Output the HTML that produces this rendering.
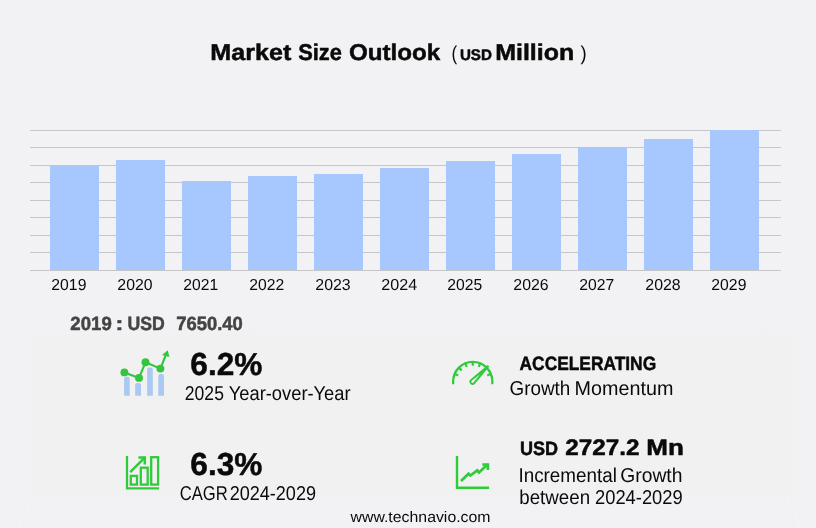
<!DOCTYPE html>
<html lang="en"><head><meta charset="utf-8"><title>Market Size Outlook</title>
<style>
html,body{margin:0;padding:0;background:#f2f2f5;}
body{width:816px;height:528px;overflow:hidden;font-family:"Liberation Sans",sans-serif;}
svg{display:block}
text,tspan{font-family:"Liberation Sans",sans-serif;fill:#0a0a0a;text-rendering:geometricPrecision}
.b{font-weight:700;stroke:#0a0a0a;stroke-width:0.5px;stroke-linejoin:round}
.g{fill:#444;stroke:#444}
</style></head><body>
<svg width="816" height="528" viewBox="0 0 816 528">
<rect x="0" y="0" width="816" height="528" fill="#f2f2f5"/>
<defs><linearGradient id="pg" x1="0" y1="0" x2="0" y2="1"><stop offset="0" stop-color="#f2f2f4"/><stop offset="1" stop-color="#f1f1f1"/></linearGradient></defs>
<rect x="30" y="329" width="762" height="6" fill="url(#pg)"/>
<rect x="30" y="335" width="762" height="161" fill="#f1f1f1"/>
<path d="M35 496 L18 528 M787 496 L800 528" stroke="#f7f7f9" stroke-width="2" fill="none" opacity="0.45"/>

<rect x="30" y="130" width="751" height="1" fill="#c6c6c8"/>
<rect x="30" y="147" width="751" height="1" fill="#c6c6c8"/>
<rect x="30" y="165" width="751" height="1" fill="#c6c6c8"/>
<rect x="30" y="182" width="751" height="1" fill="#c6c6c8"/>
<rect x="30" y="200" width="751" height="1" fill="#c6c6c8"/>
<rect x="30" y="217" width="751" height="1" fill="#c6c6c8"/>
<rect x="30" y="235" width="751" height="1" fill="#c6c6c8"/>
<rect x="30" y="252" width="751" height="1" fill="#c6c6c8"/>
<rect x="30" y="270" width="751" height="1" fill="#c6c6c8"/>
<rect x="50" y="165" width="49" height="105" fill="#a6c8ff"/>
<rect x="116" y="160" width="49" height="110" fill="#a6c8ff"/>
<rect x="182" y="181" width="49" height="89" fill="#a6c8ff"/>
<rect x="248" y="176" width="49" height="94" fill="#a6c8ff"/>
<rect x="314" y="174" width="49" height="96" fill="#a6c8ff"/>
<rect x="380" y="168" width="49" height="102" fill="#a6c8ff"/>
<rect x="446" y="161" width="49" height="109" fill="#a6c8ff"/>
<rect x="512" y="154" width="49" height="116" fill="#a6c8ff"/>
<rect x="578" y="147" width="49" height="123" fill="#a6c8ff"/>
<rect x="644" y="139" width="49" height="131" fill="#a6c8ff"/>
<rect x="710" y="130" width="49" height="140" fill="#a6c8ff"/>
<rect x="30" y="270" width="751" height="1" fill="#c6c6c8"/>
<text><tspan class="b" x="210.37" y="60" font-size="22.8" textLength="80.96" lengthAdjust="spacingAndGlyphs">Market</tspan> <tspan class="b" x="298.22" y="60" font-size="22.8" textLength="43.67" lengthAdjust="spacingAndGlyphs">Size</tspan> <tspan class="b" x="348.9" y="60" font-size="22.8" textLength="91.34" lengthAdjust="spacingAndGlyphs">Outlook</tspan> <tspan x="451.39" y="59.5" font-size="20" textLength="5.66" lengthAdjust="spacingAndGlyphs">(</tspan> <tspan class="b" x="459.93" y="60" font-size="15.4" textLength="31.98" lengthAdjust="spacingAndGlyphs">USD</tspan> <tspan class="b" x="495.2" y="60" font-size="22.8" textLength="78.95" lengthAdjust="spacingAndGlyphs">Million</tspan> <tspan x="580.6" y="59.5" font-size="20" textLength="6.19" lengthAdjust="spacingAndGlyphs">)</tspan></text>
<text><tspan class="b g" x="70.33" y="330" font-size="19.1" textLength="41.44" lengthAdjust="spacingAndGlyphs">2019</tspan> <tspan class="b g" x="115.61" y="330" font-size="19.1" textLength="7.84" lengthAdjust="spacingAndGlyphs">:</tspan> <tspan class="b g" x="127.46" y="330" font-size="19.1" textLength="37.27" lengthAdjust="spacingAndGlyphs">USD</tspan> <tspan class="b g" x="176.15" y="330" font-size="19.1" textLength="66.68" lengthAdjust="spacingAndGlyphs">7650.40</tspan></text>
<text><tspan class="b" x="190.31" y="375" font-size="31.8" textLength="72.08" lengthAdjust="spacingAndGlyphs">6.2%</tspan></text>
<text><tspan x="184.83" y="400" font-size="20" textLength="39.07" lengthAdjust="spacingAndGlyphs">2025</tspan> <tspan x="228.73" y="400" font-size="20" textLength="121.88" lengthAdjust="spacingAndGlyphs">Year-over-Year</tspan></text>
<text><tspan class="b" x="190.31" y="475" font-size="31.8" textLength="72.08" lengthAdjust="spacingAndGlyphs">6.3%</tspan></text>
<text><tspan x="179.78" y="500" font-size="20" textLength="47.96" lengthAdjust="spacingAndGlyphs">CAGR</tspan> <tspan x="229.65" y="500" font-size="20" textLength="86.35" lengthAdjust="spacingAndGlyphs">2024-2029</tspan></text>
<text><tspan class="b" x="519.6" y="370" font-size="19.2" textLength="136.54" lengthAdjust="spacingAndGlyphs">ACCELERATING</tspan></text>
<text><tspan x="509.52" y="395" font-size="20" textLength="60.8" lengthAdjust="spacingAndGlyphs">Growth</tspan> <tspan x="574.55" y="395" font-size="20" textLength="98.81" lengthAdjust="spacingAndGlyphs">Momentum</tspan></text>
<text><tspan class="b" x="520.06" y="455" font-size="19.3" textLength="38.11" lengthAdjust="spacingAndGlyphs">USD</tspan> <tspan class="b" x="565.37" y="455" font-size="22.5" textLength="74.22" lengthAdjust="spacingAndGlyphs">2727.2</tspan> <tspan class="b" x="646.24" y="455" font-size="22.5" textLength="37.62" lengthAdjust="spacingAndGlyphs">Mn</tspan></text>
<text><tspan x="518.5" y="482" font-size="20" textLength="98.34" lengthAdjust="spacingAndGlyphs">Incremental</tspan> <tspan x="620.32" y="482" font-size="20" textLength="62.06" lengthAdjust="spacingAndGlyphs">Growth</tspan></text>
<text><tspan x="519.28" y="504" font-size="20" textLength="70.78" lengthAdjust="spacingAndGlyphs">between</tspan> <tspan x="595.05" y="504" font-size="20" textLength="87.64" lengthAdjust="spacingAndGlyphs">2024-2029</tspan></text>
<text><tspan x="350.5" y="522" font-size="15.2" textLength="140.05" lengthAdjust="spacingAndGlyphs">www.technavio.com</tspan></text>
<text><tspan x="51.36" y="290" font-size="15.9" textLength="35.03" lengthAdjust="spacingAndGlyphs">2019</tspan></text>
<text><tspan x="117.36" y="290" font-size="15.9" textLength="35.16" lengthAdjust="spacingAndGlyphs">2020</tspan></text>
<text><tspan x="183.36" y="290" font-size="15.9" textLength="34.84" lengthAdjust="spacingAndGlyphs">2021</tspan></text>
<text><tspan x="249.36" y="290" font-size="15.9" textLength="34.88" lengthAdjust="spacingAndGlyphs">2022</tspan></text>
<text><tspan x="315.34" y="290" font-size="15.9" textLength="35.32" lengthAdjust="spacingAndGlyphs">2023</tspan></text>
<text><tspan x="381.37" y="290" font-size="15.9" textLength="35.79" lengthAdjust="spacingAndGlyphs">2024</tspan></text>
<text><tspan x="447.36" y="290" font-size="15.9" textLength="34.91" lengthAdjust="spacingAndGlyphs">2025</tspan></text>
<text><tspan x="513.36" y="290" font-size="15.9" textLength="35.27" lengthAdjust="spacingAndGlyphs">2026</tspan></text>
<text><tspan x="579.36" y="290" font-size="15.9" textLength="34.88" lengthAdjust="spacingAndGlyphs">2027</tspan></text>
<text><tspan x="645.35" y="290" font-size="15.9" textLength="35.3" lengthAdjust="spacingAndGlyphs">2028</tspan></text>
<text><tspan x="711.36" y="290" font-size="15.9" textLength="35.03" lengthAdjust="spacingAndGlyphs">2029</tspan></text>
<!-- icon 1: yoy chart -->
<g fill="#a9c9f3">
<path d="M124.1 395.8 V378.8 a2 2 0 0 1 2 -2 h1.6 a2 2 0 0 1 2 2 V395.8 Z"/>
<path d="M135.2 395.8 V385.1 a2 2 0 0 1 2 -2 h1.8 a2 2 0 0 1 2 2 V395.8 Z"/>
<path d="M147.1 395.8 V369.4 a2 2 0 0 1 2 -2 h1.7 a2 2 0 0 1 2 2 V395.8 Z"/>
<path d="M158.3 395.8 V376 a2 2 0 0 1 2 -2 h1.7 a2 2 0 0 1 2 2 V395.8 Z"/>
</g>
<g fill="#34c540" stroke="none">
<path d="M124.4 372.4 L139 377.9 L145.5 362.3 L160.4 368.6 L165.8 355" fill="none" stroke="#34c540" stroke-width="2.1" stroke-linejoin="round"/>
<circle cx="124.4" cy="372.4" r="3.95"/>
<circle cx="139" cy="377.9" r="3.95"/>
<circle cx="145.5" cy="362.3" r="3.95"/>
<circle cx="160.4" cy="368.6" r="3.95"/>
<path d="M167.8 350.3 L162 354.9 L169.4 357 Z"/>
</g>
<!-- icon 2: cagr -->
<g fill="none" stroke="#2fcb3b" stroke-width="2.3">
<path d="M127 455.9 V488.3 H159.1"/>
<rect x="130.8" y="475.9" width="6.2" height="8.7"/>
<rect x="140.8" y="467.7" width="6.9" height="16.9"/>
<rect x="151.2" y="457.2" width="6.9" height="27.4"/>
<path d="M130.2 472.2 L145 457.4" stroke-width="2.5"/>
<path d="M138.4 457.5 H144.8 V464.5" stroke-width="2.5"/>
</g>
<!-- icon 3: gauge -->
<g fill="none" stroke="#2fcb3b" stroke-width="2.3">
<path d="M453.15 384.2 V381.45 A19.6 19.6 0 0 1 492.35 381.45 V384.2"/>
</g>
<g fill="none" stroke="#2fcb3b" stroke-width="2.2">
<path d="M458.25 375.44 L455.01 374.10"/>
<path d="M461.65 370.35 L459.17 367.87"/>
<path d="M466.74 366.95 L465.40 363.71"/>
<path d="M472.75 365.75 L472.75 362.25"/>
<path d="M478.76 366.95 L480.10 363.71"/>
<path d="M487.25 375.44 L490.49 374.10"/>
</g>
<path d="M487.68 364.89 L489.32 366.51 L474.80 383.89 A3.1 3.1 0 0 1 470.40 379.51 Z" fill="#2fcb3b"/>
<path d="M480.00 374.25 L473.52 382.62 A1.3 1.3 0 0 1 471.68 380.78 Z" fill="#f1f1f1"/>
<!-- icon 4: incremental growth -->
<g fill="none" stroke="#2fcb3b" stroke-width="2.4">
<path d="M457 455.9 V487.8 H489.1"/>
<path d="M461 481 L468.6 473.7 L470.4 475.5 L477.2 470.4 L479 472.6 L487.8 464.3" stroke-width="2.7"/>
<path d="M482.3 464.5 H487.9 V470" stroke-width="2.7"/>
</g>

</svg></body></html>
